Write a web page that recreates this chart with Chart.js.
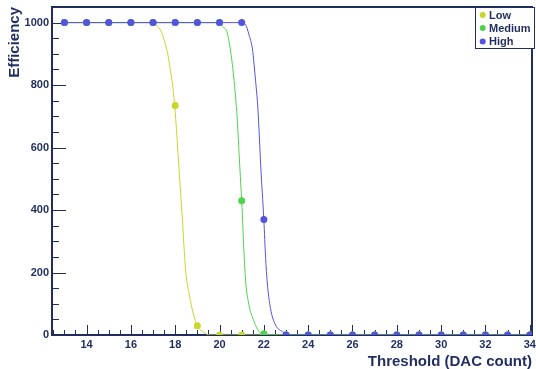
<!DOCTYPE html>
<html>
<head>
<meta charset="utf-8">
<script src="https://cdn.jsdelivr.net/npm/chart.js@4.4.1/dist/chart.umd.min.js"></script>
<style>
  html, body { margin: 0; padding: 0; background: #fff; }
  #wrap { width: 536px; height: 369px; }
</style>
</head>
<body>
<div id="wrap"><canvas id="effChart" width="536" height="369"></canvas></div>
<script>
// measured points (threshold in DAC counts)
const thresholds = [13, 14, 15, 16, 17, 18, 19, 20, 21, 22, 23, 24, 25, 26, 27, 28, 29, 30, 31, 32, 33, 34];
const lowEff    = [1000, 1000, 1000, 1000, 1000, 735, 30, 0, 0, 0, 0, 0, 0, 0, 0, 0, 0, 0, 0, 0, 0, 0];
const mediumEff = [1000, 1000, 1000, 1000, 1000, 1000, 1000, 1000, 430, 4, 0, 0, 0, 0, 0, 0, 0, 0, 0, 0, 0, 0];
const highEff   = [1000, 1000, 1000, 1000, 1000, 1000, 1000, 1000, 1000, 370, 0, 0, 0, 0, 0, 0, 0, 0, 0, 0, 0, 0];

// fitted curves
const lowFitX = [13, 17, 17.14, 17.37, 17.52, 17.67, 17.77, 17.86, 17.97, 18.19, 18.34, 18.41, 18.49, 18.61, 18.76, 18.98, 19.24, 19.6, 34];
const lowFitY = [1000, 1000, 993, 971, 939, 897, 854, 811, 740, 512, 352, 267, 192, 139, 85, 32, 11, 0, 0];
const medFitX = [13, 20, 20.13, 20.33, 20.48, 20.58, 20.66, 20.74, 20.81, 20.88, 21, 21.11, 21.18, 21.33, 21.56, 21.78, 22.1, 34];
const medFitY = [1000, 1000, 987, 971, 918, 865, 811, 747, 680, 583, 429, 255, 171, 96, 43, 11, 0, 0];
const highFitX = [13, 21, 21.18, 21.33, 21.48, 21.56, 21.63, 21.71, 21.78, 21.86, 22, 22.08, 22.15, 22.3, 22.53, 22.83, 23.2, 34];
const highFitY = [1000, 1000, 993, 961, 918, 865, 811, 747, 660, 540, 368, 245, 171, 85, 32, 11, 0, 0];

const xTickLabels = [14, 16, 18, 20, 22, 24, 26, 28, 30, 32, 34];
const yTickLabels = [0, 200, 400, 600, 800, 1000];

const seriesNames = ["Low", "Medium", "High"];
const seriesColors = ["#c9d62c", "#4fd34f", "#5353de"];

const navy = "#1f2d5f";
const fontFamily = "'Liberation Sans', Arial, Helvetica, sans-serif";

function toPoints(xs, ys) {
    return xs.map((x, i) => ({ x: x, y: ys[i] }));
}

function pointSet(name, ys, color, order) {
    return {
        label: name,
        data: toPoints(thresholds, ys),
        showLine: false,
        pointRadius: 3.5,
        pointBackgroundColor: color,
        pointBorderWidth: 0,
        borderColor: color,
        order: order
    };
}

function fitSet(name, xs, ys, color, order) {
    return {
        label: name + " fit",
        data: toPoints(xs, ys),
        showLine: true,
        borderColor: color,
        borderWidth: 1,
        pointRadius: 0,
        cubicInterpolationMode: "monotone",
        order: order
    };
}

// inward ticks + frame, ROOT style
const framePlugin = {
    id: "frame",
    beforeDatasetsDraw(chart) {
        const { ctx, chartArea: a, scales } = chart;
        ctx.save();
        ctx.strokeStyle = navy;
        ctx.lineWidth = 1;
        ctx.beginPath();
        for (let v = 12.5; v <= 34.001; v += 0.5) {
            const px = Math.round(scales.x.getPixelForValue(v)) + 0.5;
            const len = (v % 2 === 0) ? 10 : 5;
            ctx.moveTo(px, a.bottom);
            ctx.lineTo(px, a.bottom - len);
        }
        for (let v = 0; v <= 1050; v += 50) {
            const py = Math.round(scales.y.getPixelForValue(v)) + 0.5;
            const len = (v % 200 === 0) ? 14 : 7;
            ctx.moveTo(a.left, py);
            ctx.lineTo(a.left + len, py);
        }
        ctx.stroke();
        ctx.lineWidth = 2;
        ctx.strokeRect(a.left, a.top, a.right - a.left, a.bottom - a.top);
        ctx.restore();
    },
    afterDraw(chart) {
        const { ctx } = chart;
        ctx.save();
        ctx.fillStyle = "#fff";
        ctx.fillRect(475, 7, 60, 41);
        ctx.strokeStyle = navy;
        ctx.lineWidth = 1;
        ctx.strokeRect(475.5, 7.5, 59, 41);
        const rows = [15, 28, 41.5];
        ctx.font = "bold 11px " + fontFamily;
        ctx.textBaseline = "middle";
        seriesNames.forEach((name, i) => {
            ctx.fillStyle = seriesColors[i];
            ctx.beginPath();
            ctx.arc(482.7, rows[i], 3, 0, Math.PI * 2);
            ctx.fill();
            ctx.fillStyle = navy;
            ctx.fillText(name, 489, rows[i] + 0.5);
        });
        ctx.restore();
    }
};

const ctx = document.getElementById("effChart").getContext("2d");
new Chart(ctx, {
    type: "scatter",
    data: {
        datasets: [
            fitSet("Low", lowFitX, lowFitY, seriesColors[0], 6),
            pointSet("Low", lowEff, seriesColors[0], 5),
            fitSet("Medium", medFitX, medFitY, seriesColors[1], 4),
            pointSet("Medium", mediumEff, seriesColors[1], 3),
            fitSet("High", highFitX, highFitY, seriesColors[2], 2),
            pointSet("High", highEff, seriesColors[2], 1)
        ]
    },
    options: {
        responsive: false,
        animation: false,
        layout: { padding: { top: 7, right: 2, left: 0, bottom: 0 } },
        plugins: {
            legend: { display: false },
            tooltip: { enabled: false }
        },
        scales: {
            x: {
                type: "linear",
                min: 12.44,
                max: 34.1,
                grid: { display: false, drawTicks: false },
                border: { display: false },
                afterBuildTicks: (s) => { s.ticks = xTickLabels.map(v => ({ value: v })); },
                afterFit: (s) => { s.height = 34; s.paddingLeft = 0; s.paddingRight = 0; },
                ticks: {
                    padding: 3,
                    color: navy,
                    maxRotation: 0,
                    autoSkip: false,
                    callback: (v) => String(v),
                    font: { family: fontFamily, size: 11, weight: "bold" }
                },
                title: {
                    display: true,
                    text: "Threshold (DAC count)",
                    align: "end",
                    color: navy,
                    padding: { top: 0, bottom: -2 },
                    font: { family: fontFamily, size: 15, weight: "bold" }
                }
            },
            y: {
                min: 0,
                max: 1050,
                grid: { display: false, drawTicks: false },
                border: { display: false },
                afterBuildTicks: (s) => { s.ticks = yTickLabels.map(v => ({ value: v })); },
                afterFit: (s) => { s.width = 52; s.paddingTop = 0; s.paddingBottom = 0; },
                ticks: {
                    padding: 3,
                    color: navy,
                    callback: (v) => String(v),
                    font: { family: fontFamily, size: 11, weight: "bold" }
                },
                title: {
                    display: true,
                    text: "Efficiency",
                    align: "end",
                    color: navy,
                    padding: { top: 6, bottom: 0 },
                    font: { family: fontFamily, size: 15, weight: "bold" }
                }
            }
        }
    },
    plugins: [framePlugin]
});
</script>
</body>
</html>
